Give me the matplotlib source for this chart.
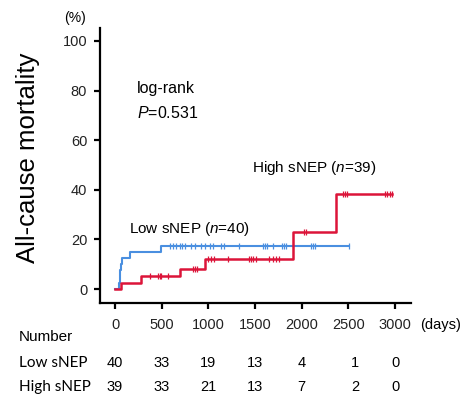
import numpy as np
import matplotlib.pyplot as plt
import matplotlib.transforms as mtransforms

plt.rcParams['font.family'] = ['Liberation Sans', 'DejaVu Sans']
plt.rcParams['mathtext.fontset'] = 'custom'
plt.rcParams['mathtext.it'] = 'Liberation Sans:italic'
plt.rcParams['mathtext.rm'] = 'Liberation Sans'

# Kaplan-Meier steps (days, cumulative mortality %)
low_t = [0, 45, 52, 58, 63, 70, 157, 496]
low_v = [0, 2.5, 5.0, 7.5, 10.0, 12.5, 15.0, 17.5]
low_end = 2511
low_cens = [586, 621, 657, 693, 718, 754, 818, 861, 925, 961, 1014, 1046, 1136,
            1164, 1332, 1582, 1606, 1628, 1689, 1786, 1810, 1832, 2100, 2125,
            2146, 2511]

high_t = [0, 61, 282, 693, 961, 1911, 2368]
high_v = [0, 2.6, 5.1, 8.1, 12.2, 23.0, 38.5]
high_end = 2968
high_cens = [371, 461, 479, 496, 568, 836, 861, 882, 1000, 1025, 1057, 1214,
             1438, 1452, 1475, 1510, 1652, 1688, 1724, 1759, 2025, 2046, 2445,
             2468, 2490, 2893, 2918, 2950, 2968]

xticks = [0, 500, 1000, 1500, 2000, 2500, 3000]
yticks = [0, 20, 40, 60, 80, 100]
low_risk = [40, 33, 19, 13, 4, 1, 0]
high_risk = [39, 33, 21, 13, 7, 2, 0]

BLUE = '#4a8fe0'
RED = '#dc1439'


def km_curve(ax, t, v, end, cens, color, lw):
    t = np.array(t + [end])
    v = np.array(v + [v[-1]])
    ax.step(t, v, where='post', color=color, lw=lw, zorder=3)
    # censor marks sit on the curve
    cens = np.array(cens)
    idx = np.searchsorted(t, cens, side='right') - 1
    ax.plot(cens, v[idx], ls='none', marker='|', ms=5, mew=0.9,
            color=color, zorder=4)


fig = plt.figure(figsize=(4.62, 3.94), dpi=100)
ax = fig.add_axes([99.7 / 462, 1 - 302.7 / 394, (410.7 - 99.7) / 462,
                   (302.7 - 28) / 394])

km_curve(ax, low_t, low_v, low_end, low_cens, BLUE, 1.5)
km_curve(ax, high_t, high_v, high_end, high_cens, RED, 1.8)

ax.set_xlim(-164, 3168)
ax.set_ylim(-5.5, 105.2)
ax.set_xticks(xticks)
ax.set_yticks(yticks)
for s in ['top', 'right']:
    ax.spines[s].set_visible(False)
for s in ['left', 'bottom']:
    ax.spines[s].set_linewidth(1.6)
ax.tick_params(axis='both', length=4, width=1.6, labelsize=10.5,
               labelcolor='#222222')
ax.tick_params(axis='x', pad=7)
ax.tick_params(axis='y', pad=5)

ax.text(236, 80.8, 'log-rank', fontsize=11.5, va='center')
ax.text(236, 70.8, r'$P$=0.531', fontsize=11.5, va='center')
ax.text(1465, 48.6, r'High sNEP ($n$=39)', fontsize=11, va='center')
ax.text(150, 24.4, r'Low sNEP ($n$=40)', fontsize=11, va='center')

fig.text(28 / 462, 1 - 158 / 394, 'All-cause mortality', rotation=90,
         fontsize=18.5, ha='center', va='center')
fig.text(75 / 462, 1 - 18 / 394, '(%)', fontsize=10, ha='center', va='center')
fig.text(420 / 462, 1 - 325 / 394, '(days)', fontsize=10.5, va='center')

# number at risk table
fig.text(19 / 462, 1 - 337 / 394, 'Number', fontsize=11, va='center')
fig.text(19 / 462, 1 - 363 / 394, 'Low sNEP', fontsize=11, va='center',
         family=['Lato', 'DejaVu Sans'])
fig.text(19 / 462, 1 - 387 / 394, 'High sNEP', fontsize=11, va='center',
         family=['Lato', 'DejaVu Sans'])

col_x = [0, 500, 1000, 1500, 2000, 2570, 3000]
trans = mtransforms.blended_transform_factory(ax.transData, fig.transFigure)
for x, a, b in zip(col_x, low_risk, high_risk):
    fig.text(x, 1 - 363 / 394, str(a), fontsize=10.5, ha='center',
             va='center', transform=trans)
    fig.text(x, 1 - 387 / 394, str(b), fontsize=10.5, ha='center',
             va='center', transform=trans)

fig.savefig('out.png', dpi=100)
